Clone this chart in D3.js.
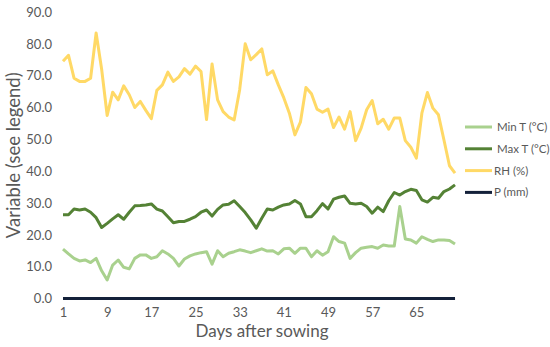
<!DOCTYPE html>
<html>
<head>
<meta charset="utf-8">
<script src="https://cdn.jsdelivr.net/npm/d3@7"></script>
<style>
  body { margin: 0; background: #fff; }
  text { font-family: Lato, "Open Sans", sans-serif; }
</style>
</head>
<body>
<div id="chart"></div>
<script>
// Days after sowing 1..72
const days = d3.range(1, 73);

const minT = [15.5, 14.0, 12.6, 11.8, 12.1, 11.3, 12.6, 8.7, 5.8, 10.5,
  12.1, 9.8, 9.3, 12.6, 13.7, 13.7, 12.6, 13.1, 15.0, 14.0,
  12.6, 10.2, 12.4, 13.4, 14.0, 14.4, 14.7, 10.8, 15.0, 13.1,
  14.2, 14.7, 15.3, 14.9, 14.4, 15.0, 15.6, 14.9, 15.0, 14.0,
  15.6, 15.8, 14.2, 15.8, 15.8, 13.1, 15.0, 13.6, 14.7, 19.4,
  17.9, 17.4, 12.6, 14.4, 15.8, 16.1, 16.3, 15.8, 16.8, 16.5,
  16.5, 28.9, 18.7, 18.4, 17.4, 19.4, 18.6, 17.9, 18.4, 18.4,
  18.2, 17.1];

const maxT = [26.3, 26.3, 28.1, 27.8, 28.1, 27.1, 25.4, 22.3, 23.6, 25.0,
  26.3, 24.9, 27.1, 29.1, 29.2, 29.4, 29.7, 28.1, 27.5, 25.7,
  23.8, 24.2, 24.2, 24.9, 25.7, 27.1, 27.8, 25.9, 28.0, 29.4,
  29.6, 30.7, 28.9, 27.0, 24.7, 22.1, 25.2, 28.1, 27.8, 28.7,
  29.4, 29.7, 30.8, 29.7, 25.7, 25.7, 27.6, 29.8, 28.1, 31.2,
  31.8, 32.2, 29.9, 29.7, 29.9, 28.9, 26.8, 28.7, 27.3, 30.7,
  33.3, 32.5, 33.6, 34.3, 33.9, 31.0, 30.3, 31.8, 31.5, 33.6,
  34.4, 35.7];

const rh = [74.5, 76.4, 69.2, 68.2, 68.2, 69.2, 83.4, 72.0, 57.5, 64.8,
  62.4, 66.8, 64.0, 60.0, 61.9, 59.1, 56.5, 65.4, 67.1, 71.1,
  68.2, 69.6, 72.2, 70.5, 73.0, 71.3, 56.2, 73.7, 62.4, 58.7,
  57.0, 56.1, 65.6, 80.0, 75.0, 76.6, 78.4, 70.3, 71.5, 67.1,
  63.0, 58.2, 51.4, 55.4, 66.3, 64.3, 59.5, 58.5, 59.5, 53.7,
  57.0, 53.2, 58.7, 49.6, 53.5, 59.3, 62.2, 54.9, 56.3, 53.2,
  56.7, 56.7, 49.6, 47.5, 44.1, 58.2, 64.7, 59.8, 57.7, 49.8,
  41.7, 39.4];

const precip = days.map(() => 0);

const seriesNames = ["Min T  (°C)", "Max T (°C)", "RH (%)", "P (mm)"];
const seriesColors = ["#A9D18E", "#548235", "#FFD966", "#14213A"];
const seriesValues = [minT, maxT, rh, precip];

const xTicks = [1, 9, 17, 25, 33, 41, 49, 57, 65];
const yTicks = [0, 10, 20, 30, 40, 50, 60, 70, 80, 90];

const W = 550, H = 347;
const margin = { top: 12, right: 95, bottom: 49, left: 63 };
const width = 455 - margin.left;
const height = 298.5 - margin.top;

const svg = d3.select("#chart").append("svg")
  .attr("width", W)
  .attr("height", H);

const g = svg.append("g")
  .attr("transform", `translate(${margin.left},${margin.top})`);

const x = d3.scaleLinear().domain([1, 72]).range([0, width]);
const y = d3.scaleLinear().domain([0, 90]).range([height, 0]);

// y axis (labels only)
const yAxis = g.append("g")
  .call(d3.axisLeft(y).tickValues(yTicks).tickSize(0).tickPadding(11).tickFormat(d3.format(".1f")));
yAxis.select(".domain").remove();
yAxis.selectAll("text").attr("fill", "#595959").style("font-size", "13px");

// x axis
const xAxis = g.append("g")
  .attr("transform", `translate(0,${height})`)
  .call(d3.axisBottom(x).tickValues(xTicks).tickSize(0).tickPadding(9));
xAxis.select(".domain").attr("stroke", "#d9d9d9");
xAxis.selectAll("text").attr("fill", "#595959").style("font-size", "13px");

const line = d3.line()
  .x((d, i) => x(days[i]))
  .y(d => y(d));

seriesValues.forEach((vals, k) => {
  g.append("path")
    .datum(vals)
    .attr("fill", "none")
    .attr("stroke", seriesColors[k])
    .attr("stroke-width", 3)
    .attr("stroke-linejoin", "round")
    .attr("d", line);
});

// axis titles
svg.append("text")
  .attr("transform", `translate(20,${margin.top + height / 2}) rotate(-90)`)
  .attr("text-anchor", "middle")
  .attr("fill", "#595959")
  .style("font-size", "18.5px")
  .text("Variable (see legend)");

svg.append("text")
  .attr("x", 262)
  .attr("y", 337)
  .attr("text-anchor", "middle")
  .attr("fill", "#595959")
  .style("font-size", "17px")
  .text("Days after sowing");

// legend
const legend = svg.append("g").attr("transform", "translate(465,127)");
seriesNames.forEach((name, k) => {
  const row = legend.append("g").attr("transform", `translate(0,${k * 21.8})`);
  row.append("line")
    .attr("x1", 0).attr("x2", 27)
    .attr("stroke", seriesColors[k])
    .attr("stroke-width", 3);
  row.append("text")
    .attr("x", k >= 2 ? 29 : 32)
    .attr("dy", "0.35em")
    .attr("fill", "#595959")
    .style("font-size", "11.5px")
    .text(name);
});
</script>
</body>
</html>
